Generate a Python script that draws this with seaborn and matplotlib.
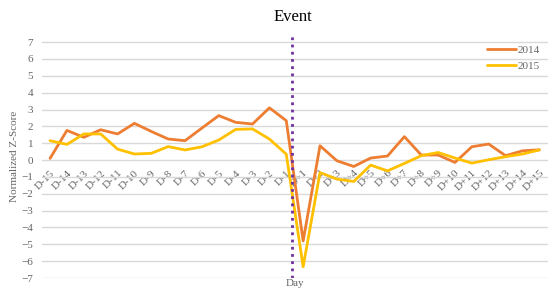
import numpy as np
import pandas as pd
import matplotlib
matplotlib.use("Agg")
import matplotlib.pyplot as plt
import seaborn as sns

# day labels, 15 days before and after the event
days = [f"D-{i}" for i in range(15, 0, -1)] + [f"D+{i}" for i in range(1, 16)]

z_2014 = [0.1, 1.76, 1.35, 1.8, 1.55, 2.18, 1.7, 1.25, 1.15, 1.9, 2.64, 2.24, 2.14, 3.1, 2.34,
          -4.8, 0.85, -0.04, -0.38, 0.12, 0.24, 1.39, 0.3, 0.3, -0.14, 0.79, 0.95, 0.26, 0.55, 0.61]
z_2015 = [1.15, 0.93, 1.55, 1.55, 0.65, 0.36, 0.4, 0.8, 0.6, 0.79, 1.19, 1.82, 1.85, 1.25, 0.35,
          -6.33, -0.74, -1.13, -1.27, -0.3, -0.64, -0.2, 0.26, 0.45, 0.12, -0.18, 0.02, 0.2, 0.36, 0.6]
years = ["2014", "2015"]
colors = ["#ED7D31", "#FFC000"]

df = pd.DataFrame({
    "day": days * 2,
    "pos": list(range(len(days))) * 2,
    "z": z_2014 + z_2015,
    "year": ["2014"] * len(days) + ["2015"] * len(days),
})

sns.set_style("white")
plt.rcParams["font.family"] = ["Liberation Serif", "DejaVu Serif"]
gray = "#666666"

fig = plt.figure(figsize=(5.55, 2.95), dpi=100)
ax = fig.add_axes([0.075, 0.0576, 0.912, 0.8224])

sns.lineplot(data=df, x="pos", y="z", hue="year", hue_order=years,
             palette=colors, linewidth=2, ax=ax)

# event marker between D-1 and D+1
ax.axvline(14.35, color="#7030A0", linestyle=(0, (1, 1.6)), linewidth=2)

ax.set_xlim(-0.5, len(days) - 0.5)
ax.set_ylim(-7, 7.4)
ax.set_yticks(range(-7, 8))
ax.yaxis.grid(True, color="#D9D9D9", linewidth=1)
ax.set_axisbelow(True)
for s in ax.spines.values():
    s.set_visible(False)

ax.spines["bottom"].set_position(("data", 0))
ax.set_xticks(range(len(days)))
ax.set_xticklabels(days, rotation=45, ha="right", rotation_mode="anchor")
ax.tick_params(axis="x", length=0, pad=6, labelsize=8, labelcolor=gray)
ax.tick_params(axis="y", length=0, pad=6, labelsize=8, labelcolor=gray)

ax.set_xlabel("")
ax.set_ylabel("Normalized Z-Score", fontsize=8, color=gray, labelpad=2)
fig.text(0.532, 0.025, "Day", ha="center", va="bottom", fontsize=8, color=gray)
fig.text(0.528, 0.915, "Event", ha="center", va="bottom", fontsize=12, color="black")

ax.legend(loc="upper right", frameon=False, fontsize=8, labelcolor=gray,
          handlelength=2.6, handletextpad=0.2, borderaxespad=0.3,
          bbox_to_anchor=(1.0, 0.99))

fig.savefig("out.png", dpi=100)
